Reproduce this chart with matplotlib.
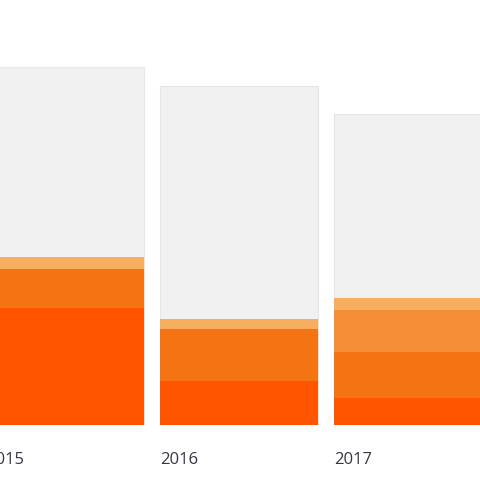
import numpy as np
import matplotlib.pyplot as plt
import matplotlib.transforms as mtransforms

plt.rcParams['font.family'] = ['Open Sans', 'DejaVu Sans']

# --- Data (arbitrary units) ---
years = ["2015", "2016", "2017"]
totals = [358, 339, 311]          # light grey background bars
series_1 = [117, 44, 27]          # dark orange
series_2 = [39, 52, 46]           # orange
series_3 = [0, 0, 42]             # mid orange
series_4 = [12, 10, 12]           # light orange

colors = ["#ff5500", "#f47414", "#f68e38", "#f8ae5f"]

# --- Plot ---
fig = plt.figure(figsize=(4.8, 4.8), dpi=100)
ax = fig.add_axes([0, 55 / 480, 1, 425 / 480])

x = np.arange(len(years))
width = 158 / 174

ax.bar(x, totals, width=width, color="#f1f1f1", edgecolor="#e6e6e6", linewidth=0.8)

bottom = np.zeros(len(years))
for vals, c in zip([series_1, series_2, series_3, series_4], colors):
    ax.bar(x, vals, width=width, bottom=bottom, color=c, linewidth=0)
    bottom += np.array(vals)

ax.set_xticks([])
ax.set_yticks([])
for s in ax.spines.values():
    s.set_visible(False)

ax.set_xlim(1 - 239 / 174, 1 + 241 / 174)
ax.set_ylim(0, 425)

# year labels, left-aligned at each bar's left edge (first one runs off the edge)
trans = mtransforms.blended_transform_factory(ax.transData, ax.transAxes)
for xi, label in zip(x, years):
    ax.text(xi - width / 2, -39 / 425, label, transform=trans, ha="left",
            va="baseline", fontsize=12, color="#363645", clip_on=False)

fig.savefig("out.png", dpi=100)
